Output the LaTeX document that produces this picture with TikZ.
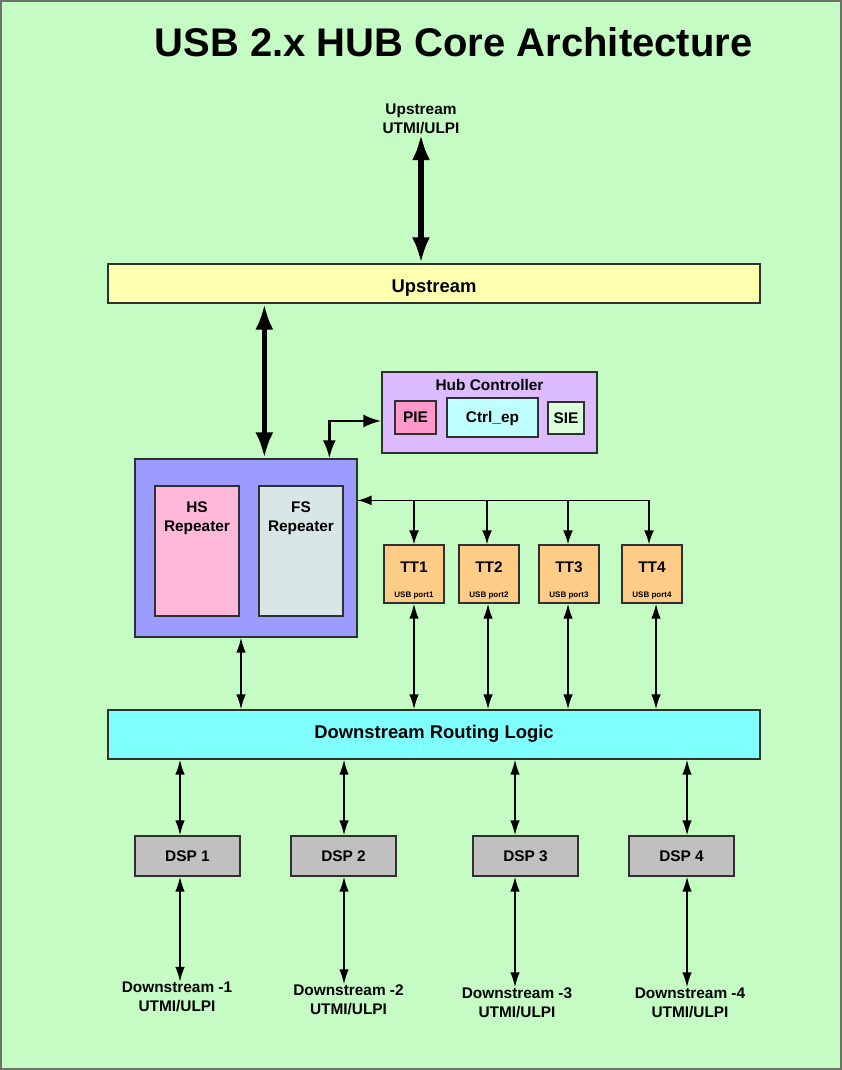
\documentclass[tikz,border=0pt]{standalone}
\usepackage{fontspec}
\setmainfont{Liberation Sans}
\usetikzlibrary{arrows.meta,calc}
\definecolor{bg}{HTML}{C4FCC4}
\definecolor{frame}{HTML}{707070}
\definecolor{upfill}{HTML}{FFFFB0}
\definecolor{hcfill}{HTML}{DCBCFF}
\definecolor{piefill}{HTML}{FF99CC}
\definecolor{ctrlfill}{HTML}{C0FFFF}
\definecolor{siefill}{HTML}{DAFFDA}
\definecolor{repfill}{HTML}{9C9CFF}
\definecolor{hsfill}{HTML}{FFB8D8}
\definecolor{fsfill}{HTML}{D8E6E6}
\definecolor{ttfill}{HTML}{FFCC88}
\definecolor{drlfill}{HTML}{80FFFF}
\definecolor{dspfill}{HTML}{C0C0C0}
\definecolor{edge}{HTML}{303030}
\begin{document}
\begin{tikzpicture}[x=1pt,y=-1pt,
  box/.style={draw=edge, line width=1.3pt, inner sep=0pt},
  txt/.style={inner sep=0pt, align=center, font=\bfseries\fontsize{15.4}{19}\selectfont},
  bigtxt/.style={inner sep=0pt, align=center, font=\bfseries\fontsize{18.4}{22}\selectfont},
  smalltxt/.style={inner sep=0pt, font=\bfseries\fontsize{8}{9}\selectfont},
  bigarr/.style={line width=5.5pt, {Latex[length=26pt,width=18pt]}-{Latex[length=26pt,width=18pt]}},
  midarr/.style={line width=2.8pt, {Latex[length=18pt,width=13pt]}-{Latex[length=18pt,width=13pt]}},
  thinarr/.style={line width=1.6pt, {Latex[length=15pt,width=9.5pt]}-{Latex[length=15pt,width=9.5pt]}},
  onearr/.style={line width=1.6pt, -{Latex[length=14pt,width=10pt]}},
  busline/.style={line width=1.6pt}
]
\useasboundingbox (0,0) rectangle (842,1070);
\fill[bg] (0,0) rectangle (842,1070);
\draw[frame, line width=2pt] (1,1) rectangle (841,1068.5);

% title
\node[inner sep=0pt, font=\bfseries\fontsize{40}{48}\selectfont] (title) at (453.5,42) {USB 2.x HUB Core Architecture};

% upstream label and box
\node[txt] (upl) at (421,119) {Upstream\\UTMI/ULPI};
\node[box, fill=upfill, minimum width=652pt, minimum height=39pt] (ups) at (434,283.5) {};
\node[bigtxt] (upsT) at (434,288) {Upstream};

% hub controller
\node[box, fill=hcfill, minimum width=215pt, minimum height=81pt] (hc) at (489.5,412.5) {};
\node[txt] (hcT) at (489.5,385) {Hub Controller};
\node[box, fill=piefill, minimum width=41pt, minimum height=33pt, font=\bfseries\fontsize{15.4}{19}\selectfont] (pie) at (415.5,417.5) {PIE};
\node[box, fill=ctrlfill, minimum width=91pt, minimum height=39pt] (ctrl) at (492.5,417.5) {};
\node[txt] (ctrlT) at (492.5,419) {Ctrl\_ep};
\node[box, fill=siefill, minimum width=36pt, minimum height=32pt, font=\bfseries\fontsize{15.4}{19}\selectfont] (sie) at (566,418) {SIE};

% repeaters
\node[box, fill=repfill, minimum width=222pt, minimum height=178pt] (rep) at (246,548) {};
\node[box, fill=hsfill, minimum width=84pt, minimum height=130pt] (hs) at (197,551) {};
\node[box, fill=fsfill, minimum width=84pt, minimum height=130pt] (fs) at (301,551) {};
\node[txt, anchor=north] (hsT) at ($(hs.north)+(0,16.5)$) {HS\\Repeater};
\node[txt, anchor=north] (fsT) at ($(fs.north)+(0,16.5)$) {FS\\Repeater};

% TTs
\foreach \i/\x in {1/414,2/489,3/569,4/652}{
  \node[box, fill=ttfill, minimum width=60pt, minimum height=58pt] (tt\i) at (\x,574) {};
  \node[txt] (tt\i T) at (\x,567) {TT\i};
  \node[smalltxt] (tt\i P) at (\x,596) {USB port\i};
}

% downstream routing logic
\node[box, fill=drlfill, minimum width=652pt, minimum height=49pt] (drl) at (434,734.5) {};
\node[bigtxt] (drlT) at (434,734) {Downstream Routing Logic};

% DSPs
\foreach \i/\x in {1/187.5,2/343.5,3/525.5,4/681.5}{
  \node[box, fill=dspfill, minimum width=105pt, minimum height=40pt, font=\bfseries\fontsize{15.4}{19}\selectfont] (dsp\i) at (\x,856) {DSP \i};
}

% bottom labels
\node[txt] (lab1) at (177,997) {Downstream -1\\UTMI/ULPI};
\node[txt] (lab2) at (348.5,999.5) {Downstream -2\\UTMI/ULPI};
\node[txt] (lab3) at (517,1002.5) {Downstream -3\\UTMI/ULPI};
\node[txt] (lab4) at (690,1002.5) {Downstream -4\\UTMI/ULPI};

% connectors
\draw[bigarr] (upl.south) -- (upl.south |- ups.north);
\coordinate (repA) at ($(rep.north west)+(130,0)$);
\draw[bigarr] (repA |- ups.south) -- (repA);
\coordinate (repB) at ($(rep.north west)+(195,0)$);
\coordinate (hcIn) at ($(hc.west)+(0,8.5)$);
\draw[midarr] (repB) |- (hcIn);

% FS bus to TTs
\coordinate (bus) at ($(rep.north east)+(0,42)$);
\draw[busline] (bus) -- ($(bus -| tt4.north)+(-3,0)$);
\draw[onearr] (bus -| tt1.north) -- (bus);
\foreach \i/\dx in {1/0,2/-2,3/-1,4/-3}{
  \draw[onearr] ($(bus -| tt\i.north)+(\dx,0)$) -- ($(tt\i.north)+(\dx,0)$);
}

% TT / repeater to routing logic
\draw[thinarr] ($(rep.south)+(-5,0)$) -- ($(rep.south |- drl.north)+(-5,0)$);
\foreach \i/\dx in {1/0,2/-1,3/-1,4/4}{
  \draw[thinarr] ($(tt\i.south)+(\dx,0)$) -- ($(tt\i.south |- drl.north)+(\dx,0)$);
}

% routing logic to DSPs and DSPs to labels
\foreach \i/\dx in {1/-7.5,2/0.5,3/-10.5,4/5.5}{
  \draw[thinarr] ($(dsp\i.north |- drl.south)+(\dx,0)$) -- ($(dsp\i.north)+(\dx,0)$);
  \draw[thinarr] ($(dsp\i.south)+(\dx,0)$) -- ($(dsp\i.south |- lab\i.north)+(\dx,0)$);
}
\end{tikzpicture}
\end{document}
